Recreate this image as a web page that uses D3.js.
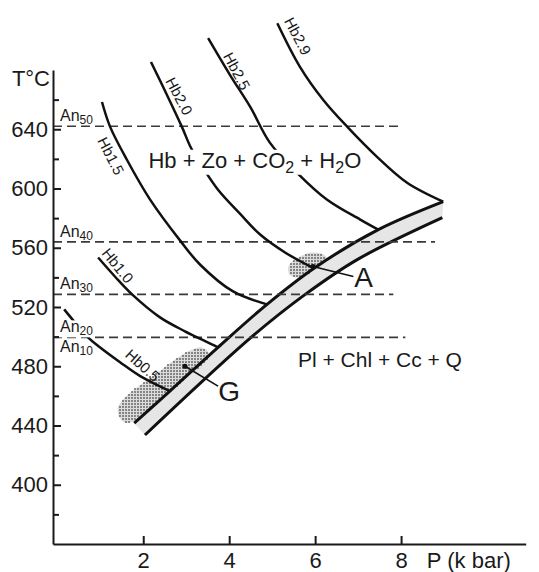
<!DOCTYPE html>
<html lang="en">
<head>
<meta charset="UTF-8">
<title>Hb isopleths P-T</title>
<script src="https://d3js.org/d3.v7.min.js"></script>
<style>
  body { margin: 0; background: #fff; }
  text { font-family: "Liberation Sans", Arial, sans-serif; fill: #1a1a1a; }
  .axis path, .axis line { stroke: #1a1a1a; stroke-width: 2px; }
  .axis text { font-size: 22px; font-family: "Liberation Sans", Arial, sans-serif; fill: #1a1a1a; }
  .curve { fill: none; stroke: #111; stroke-width: 2.5px; }
  .bandline { fill: none; stroke: #111; stroke-width: 3px; }
  .iso { stroke: #3a3a3a; stroke-width: 1.6px; stroke-dasharray: 9,5; }
</style>
</head>
<body>
<svg width="539" height="572"></svg>
<script>
// ticks
var tMajor = [400, 440, 480, 520, 560, 600, 640];
var tMinor = [380, 420, 460, 500, 540, 580, 620, 660];
var pTicks = [2, 4, 6, 8];

// An isotherms (dashed)
var anNames = ["50", "40", "30", "20"];
var anT = [642, 564, 528.5, 499.5];
var anEndP = [7.98, 8.79, 7.82, 8.10];

// Hb isopleths [P kbar, T °C]
var hb05 = [[0.16, 518.4], [0.37, 511.0], [0.69, 500.2], [0.99, 492.8], [1.46, 482.7], [1.93, 473.3], [2.62, 463.2]];
var hb10 = [[0.95, 553.4], [1.34, 540.6], [1.74, 528.5], [2.39, 513.0], [2.97, 503.6], [3.44, 496.9], [3.74, 492.8]];
var hb15 = [[1.04, 658.4], [1.23, 641.6], [1.62, 619.4], [2.16, 592.5], [2.86, 564.8], [3.32, 548.7], [4.09, 530.5], [4.88, 521.8]];
var hb20 = [[2.18, 685.4], [2.53, 664.5], [2.90, 641.6], [3.11, 627.5], [3.39, 614.0], [3.74, 599.2], [4.25, 583.0], [4.72, 568.9], [5.30, 556.8], [5.93, 546.7]];
var hb25 = [[3.51, 701.5], [4.02, 676.6], [4.49, 655.1], [4.95, 630.8], [5.58, 610.6], [6.28, 592.4], [7.05, 579.0], [7.47, 572.2]];
var hb29 = [[5.12, 711.6], [5.65, 682.0], [6.19, 659.8], [6.75, 641.6], [7.44, 621.4], [8.14, 603.9], [8.98, 591.1]];

var hbNames = ["Hb0.5", "Hb1.0", "Hb1.5", "Hb2.0", "Hb2.5", "Hb2.9"];
var hbLabelAt = [[1.99, 480.7], [1.41, 548.0], [1.25, 622.0], [2.84, 662.4], [4.18, 679.3], [5.60, 702.9]];
var hbLabelAngle = [42, 51, 63, 62, 62, 62];

// reaction band
var bandUpper = [[1.79, 441.6], [2.62, 463.2], [3.74, 492.8], [4.88, 521.8], [6.00, 546.7], [7.47, 572.2], [8.98, 591.1]];
var bandLower = [[2.04, 433.6], [4.51, 499.5], [5.77, 528.5], [6.98, 552.0], [8.96, 580.3]];

// sample fields
var fieldG = [[1.41, 452.4], [1.58, 459.2], [1.86, 465.9], [2.23, 473.3], [2.62, 482.1], [3.00, 489.5], [3.32, 492.8], [3.51, 490.1],
              [3.49, 484.1], [3.09, 474.0], [2.62, 462.5], [2.16, 451.1], [1.79, 443.0], [1.58, 441.7], [1.44, 445.7]];
var fieldA = [[5.37, 546.7], [5.47, 550.7], [5.65, 554.1], [5.88, 556.8], [6.16, 556.1], [6.28, 552.7], [6.19, 548.7],
              [6.00, 545.3], [5.77, 540.6], [5.54, 539.9], [5.40, 541.9]];
var sampleNames = ["A", "G"];
var sampleDot = [[5.95, 547.3], [2.97, 480.0]];
var sampleLabel = [[6.89, 540.6], [3.74, 466.6]];
var sampleText = [[7.13, 533.2], [4.00, 456.4]];

var svg = d3.select("svg");

var x = d3.scaleLinear().domain([-0.1, 10.9]).range([53, 525.7]);
var y = d3.scaleLinear().domain([360, 680]).range([544, 70]);

var line = d3.line()
    .x(function(d) { return x(d[0]); })
    .y(function(d) { return y(d[1]); })
    .curve(d3.curveCatmullRom.alpha(0.5));

// band fill
var bandPath = line(bandUpper) + line(bandLower.slice().reverse()).replace(/^M/, "L") + "Z";
svg.append("path")
    .attr("d", bandPath)
    .attr("fill", "#e6e6e6");

// stippled fields: dot grid inside each field outline
var fieldLine = d3.line()
    .x(function(d) { return x(d[0]); })
    .y(function(d) { return y(d[1]); })
    .curve(d3.curveCardinalClosed.tension(0.3));

[fieldA, fieldG].forEach(function(f) {
    var pts = f.map(function(d) { return [x(d[0]), y(d[1])]; });
    var xs = d3.extent(pts, function(d) { return d[0]; });
    var ys = d3.extent(pts, function(d) { return d[1]; });
    svg.append("path")
        .attr("d", fieldLine(f))
        .attr("fill", "#dcdcdc");
    var dots = [];
    for (var px = Math.floor(xs[0]); px <= xs[1]; px += 3) {
        for (var py = Math.floor(ys[0]); py <= ys[1]; py += 3) {
            if (d3.polygonContains(pts, [px, py])) dots.push([px, py]);
        }
    }
    svg.append("g").selectAll("rect")
        .data(dots)
        .enter().append("rect")
        .attr("x", function(d) { return d[0] - 0.8; })
        .attr("y", function(d) { return d[1] - 0.8; })
        .attr("width", 1.6).attr("height", 1.6)
        .attr("fill", "#555");
});

svg.selectAll(".bandline")
    .data([bandUpper, bandLower])
    .enter().append("path")
    .attr("class", "bandline")
    .attr("d", line);

// dashed An lines
svg.selectAll(".iso")
    .data(anT)
    .enter().append("line")
    .attr("class", "iso")
    .attr("x1", x(-0.1))
    .attr("x2", function(d, i) { return x(anEndP[i]); })
    .attr("y1", function(d) { return y(d); })
    .attr("y2", function(d) { return y(d); });

// Hb curves
svg.selectAll(".curve")
    .data([hb05, hb10, hb15, hb20, hb25, hb29])
    .enter().append("path")
    .attr("class", "curve")
    .attr("d", line);

// labels that cut the curves
function knockout(t, pad) {
    var b = t.node().getBBox();
    svg.insert("rect", function() { return t.node(); })
        .attr("x", b.x - pad).attr("y", b.y + 2)
        .attr("width", b.width + 2 * pad).attr("height", b.height - 3)
        .attr("fill", "#fff");
}

function anLabel(num, yy) {
    var t = svg.append("text")
        .attr("x", x(-0.1) + 7)
        .attr("y", yy)
        .style("font-size", "16px");
    t.append("tspan").text("An");
    t.append("tspan").attr("dy", 3).style("font-size", "12px").text(num);
    return t;
}

anNames.forEach(function(n, i) {
    var t = anLabel(n, y(anT[i]) - 5);
    if (n === "20") knockout(t, 1);
});
anLabel("10", y(anT[3]) + 15);

// curve labels
svg.selectAll(".hblab")
    .data(hbNames)
    .enter().append("text")
    .attr("class", "hblab")
    .attr("text-anchor", "middle")
    .attr("dominant-baseline", "central")
    .style("font-size", "15px")
    .attr("transform", function(d, i) {
        return "translate(" + x(hbLabelAt[i][0]) + "," + y(hbLabelAt[i][1]) + ") rotate(" + hbLabelAngle[i] + ")";
    })
    .text(function(d) { return d; });

// field labels
var hbZo = svg.append("text")
    .attr("x", x(2.12)).attr("y", y(614))
    .style("font-size", "22px");
hbZo.append("tspan").text("Hb + Zo + CO");
hbZo.append("tspan").attr("dy", 5).style("font-size", "16px").text("2");
hbZo.append("tspan").attr("dy", -5).text(" + H");
hbZo.append("tspan").attr("dy", 5).style("font-size", "16px").text("2");
hbZo.append("tspan").attr("dy", -5).text("O");
knockout(hbZo, 4);

svg.append("text")
    .attr("x", x(5.6)).attr("y", y(479.5))
    .style("font-size", "21px")
    .text("Pl + Chl + Cc + Q");

// samples
svg.selectAll(".pointer")
    .data(sampleDot)
    .enter().append("line")
    .attr("x1", function(d) { return x(d[0]); })
    .attr("y1", function(d) { return y(d[1]); })
    .attr("x2", function(d, i) { return x(sampleLabel[i][0]); })
    .attr("y2", function(d, i) { return y(sampleLabel[i][1]); })
    .attr("stroke", "#111").attr("stroke-width", 1.6);

svg.selectAll(".dot")
    .data(sampleDot)
    .enter().append("circle")
    .attr("cx", function(d) { return x(d[0]); })
    .attr("cy", function(d) { return y(d[1]); })
    .attr("r", 2.6).attr("fill", "#111");

svg.selectAll(".samp")
    .data(sampleNames)
    .enter().append("text")
    .attr("text-anchor", "middle")
    .style("font-size", "28px")
    .attr("x", function(d, i) { return x(sampleText[i][0]); })
    .attr("y", function(d, i) { return y(sampleText[i][1]); })
    .text(function(d) { return d; });

// axes
svg.append("g")
    .attr("class", "axis")
    .attr("transform", "translate(" + x(-0.1) + ",0)")
    .call(d3.axisLeft(y).tickValues(tMinor).tickSize(-6).tickSizeOuter(0).tickFormat(""));

svg.append("g")
    .attr("class", "axis")
    .attr("transform", "translate(" + x(-0.1) + ",0)")
    .call(d3.axisLeft(y).tickValues(tMajor).tickSize(-8).tickSizeOuter(0).tickPadding(5))
    .call(function(g) { g.select(".domain").remove(); });

svg.append("g")
    .attr("class", "axis")
    .attr("transform", "translate(0," + y(360) + ")")
    .call(d3.axisBottom(x).tickValues(pTicks).tickSize(-8).tickSizeOuter(0).tickPadding(8));

svg.append("text")
    .attr("x", x(-0.1) - 3).attr("y", y(669))
    .attr("text-anchor", "end")
    .style("font-size", "22px")
    .text("T°C");

svg.append("text")
    .attr("x", x(8.6)).attr("y", y(360) + 24)
    .style("font-size", "22px")
    .text("P (k bar)");
</script>
</body>
</html>
